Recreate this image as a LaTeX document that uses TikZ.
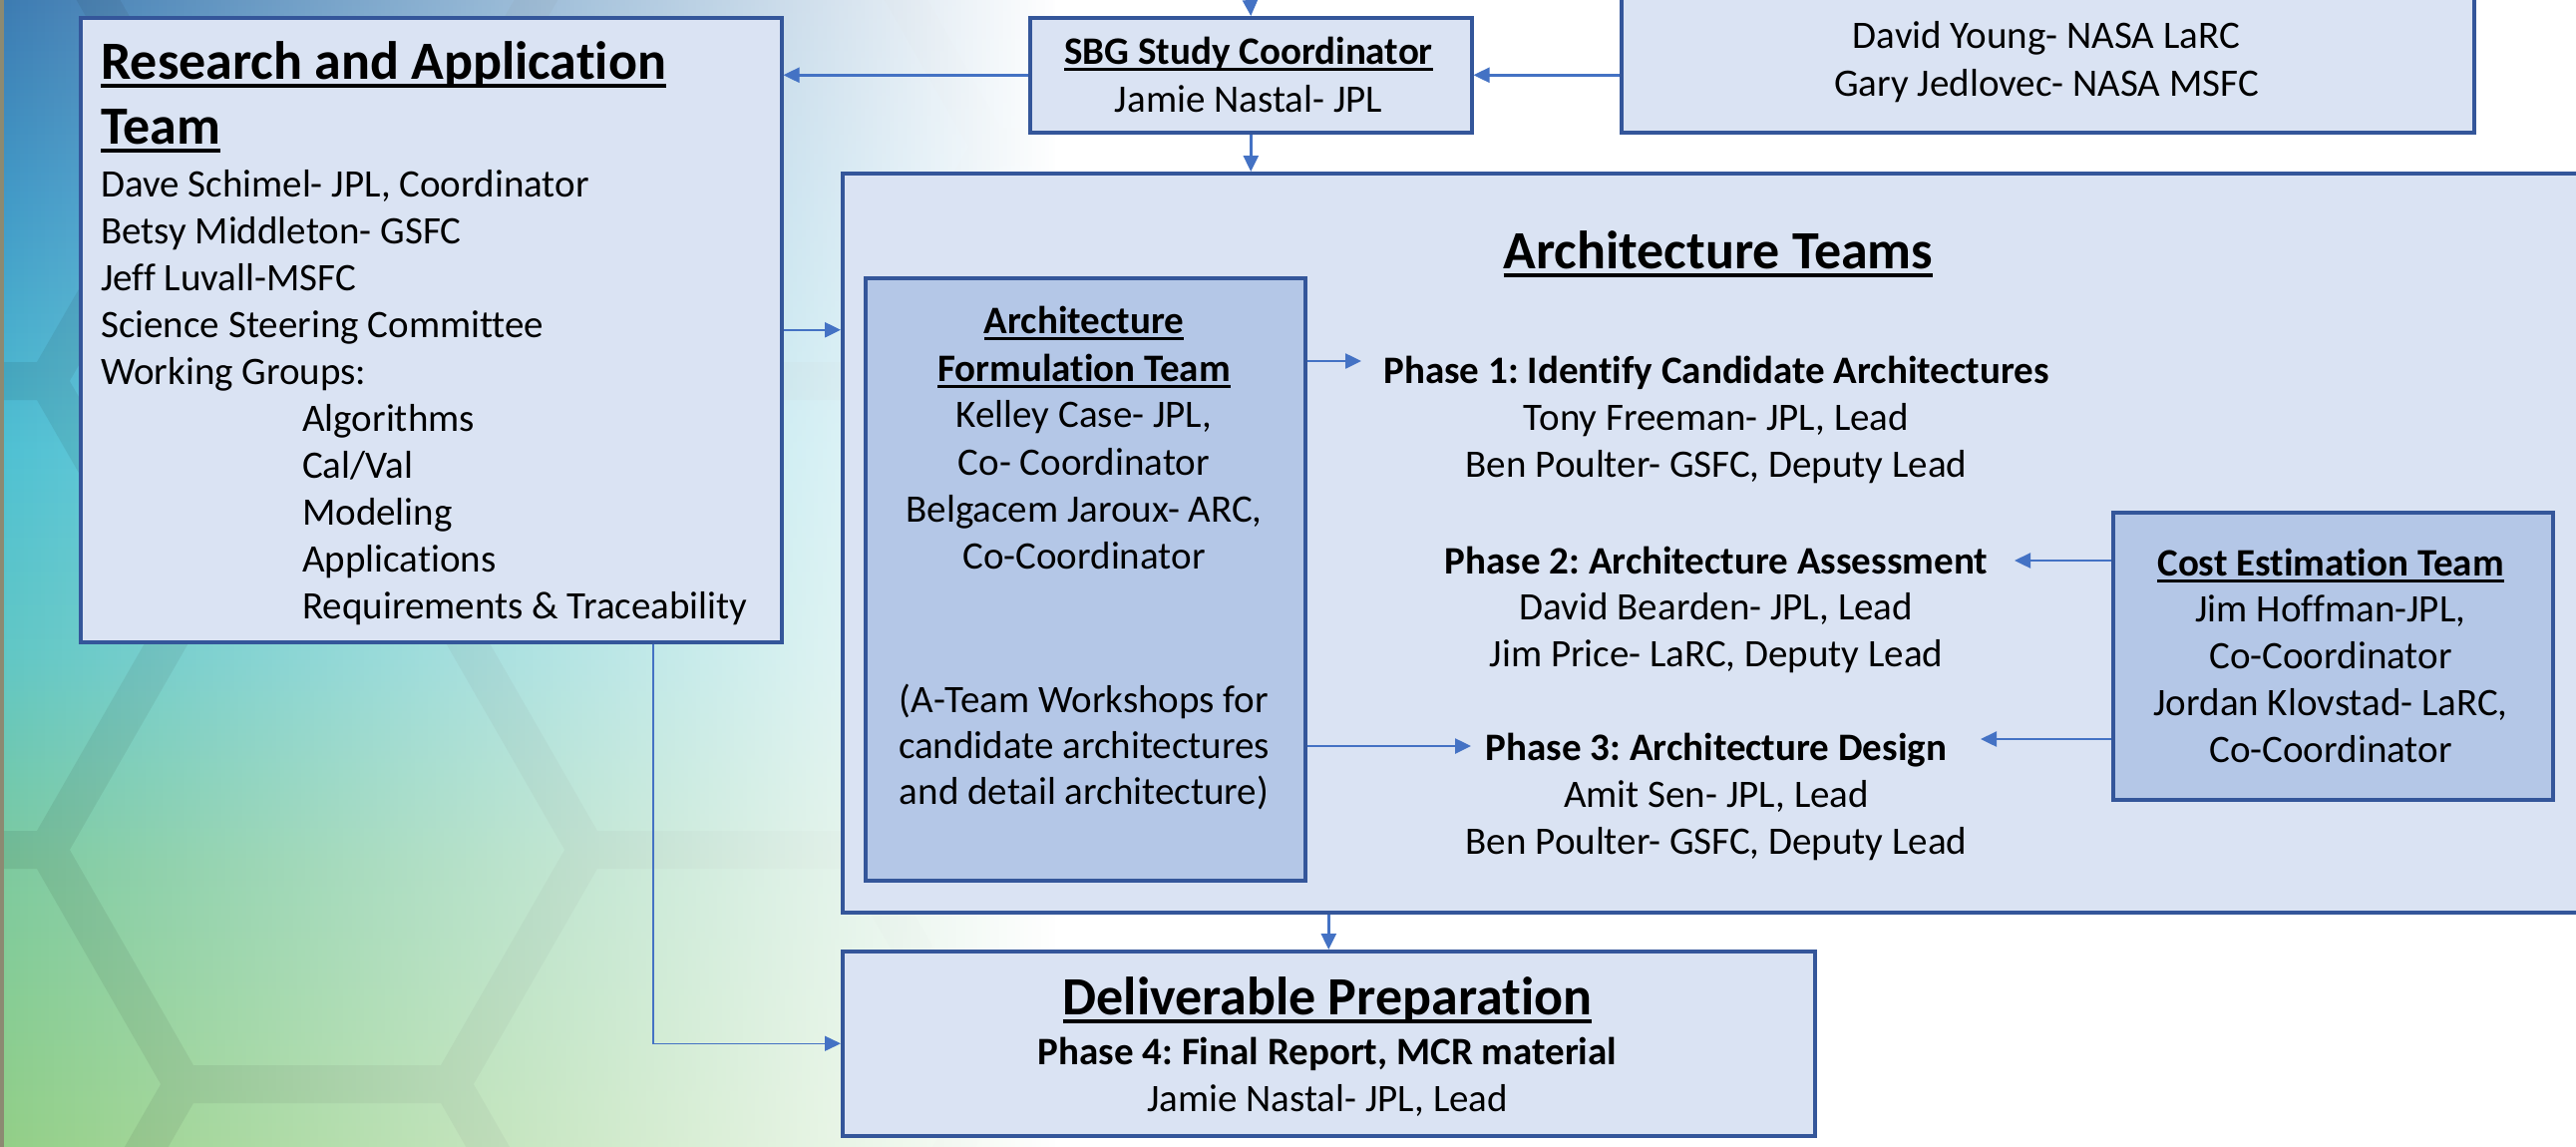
\documentclass[tikz,border=0pt]{standalone}
\usepackage{fontspec}
\setmainfont{Carlito}[Ligatures=NoCommon]
\usetikzlibrary{arrows.meta,fadings}
\definecolor{boxf}{HTML}{DAE3F3}
\definecolor{boxi}{HTML}{B4C7E7}
\definecolor{boxb}{HTML}{34569A}
\definecolor{arrc}{HTML}{4472C4}
\definecolor{bgBa}{HTML}{3A78B0}
\definecolor{bgBb}{HTML}{3F98C6}
\definecolor{bgC}{HTML}{4DC0D2}
\definecolor{bgT}{HTML}{5FC6C4}
\definecolor{bgY}{HTML}{7BC99E}
\definecolor{bgG}{HTML}{93CF84}
\definecolor{edgec}{HTML}{8C8A72}
\pgfdeclareverticalshading{bgshade}{100bp}{color(0bp)=(bgG); color(25bp)=(bgG); color(38bp)=(bgY); color(46.7bp)=(bgT); color(55.4bp)=(bgC); color(66.3bp)=(bgBb); color(75bp)=(bgBa); color(100bp)=(bgBa)}
\tikzfading[name=fadeR, left color=transparent!100, right color=transparent!0]
\newcommand\ulx[1]{\sbox0{#1}\rlap{\rule[-0.17em]{\wd0}{0.075em}}\usebox0}
\frenchspacing
\tikzset{
  box/.style={draw=boxb, line width=3.5pt, fill=boxf, inner sep=0pt, anchor=north west},
  ibox/.style={box, fill=boxi},
  txt/.style={inner sep=0pt, anchor=base, font=\fontsize{39}{47}\selectfont},
  txtl/.style={txt, anchor=base west},
  bt/.style={txt, font=\fontsize{39}{47}\selectfont\bfseries},
  big/.style={inner sep=0pt, anchor=base, font=\fontsize{54}{65}\selectfont\bfseries},
  arr/.style={draw=arrc, line width=2.5pt, -{Triangle[length=16pt,width=15pt]}},
  hexb/.style={draw=black, opacity=0.08, line width=38pt, line join=round},
}
\begin{document}
\begin{tikzpicture}[x=1pt, y=-1pt]
\useasboundingbox (0,0) rectangle (2583,1149);
% background
\fill[white] (-10,-10) rectangle (2600,1170);
\shade[shading=bgshade] (-10,-10) rectangle (1060,1170);
\begin{scope}
  \clip (-10,-10) rectangle (1060,1170);
  \draw[hexb] \foreach \cx/\cy in {318/852, 318/382, 318/1322, 318/-88, 723/617, 723/1087, 723/147, -87/617, -87/1087, -87/147, 1128/852, 1128/382}
    { (\cx+270,\cy) -- (\cx+135,\cy-235) -- (\cx-135,\cy-235) -- (\cx-270,\cy) -- (\cx-135,\cy+235) -- (\cx+135,\cy+235) -- cycle };
\end{scope}
\fill[white, path fading=fadeR] (-10,-10) rectangle (1060,1170);
\fill[white] (1058,-10) rectangle (1100,1170);
\fill[edgec] (-10,-10) rectangle (4,1170);

% boxes
\node[box, minimum width=703pt, minimum height=626pt] (rat) at (79,16) {};
\node[box, minimum width=443pt, minimum height=115pt] (sbg) at (1031,16) {};
\node[box, minimum width=855pt, minimum height=171pt] (tr) at (1624,-40) {};
\node[box, minimum width=1800pt, minimum height=741pt] (arch) at (843,172) {};
\node[ibox, minimum width=441pt, minimum height=604pt] (af) at (866,277) {};
\node[ibox, minimum width=441pt, minimum height=288pt] (cost) at (2117,512) {};
\node[box, minimum width=975pt, minimum height=185pt] (deliv) at (843,952) {};

% Research and Application Team
\node[big, anchor=base west] (r0) at (101,79) {\ulx{Research and Application}};
\node[big, anchor=base west] (r1) at (101,144) {\ulx{Team}};
\node[txtl] (r2) at (101,197) {Dave Schimel- JPL, Coordinator};
\node[txtl] (r3) at (101,244) {Betsy Middleton- GSFC};
\node[txtl] (r4) at (101,291) {Jeff Luvall-MSFC};
\node[txtl] (r5) at (101,338) {Science Steering Committee};
\node[txtl] (r6) at (101,385) {Working Groups:};
\node[txtl] (r7) at (303,432) {Algorithms};
\node[txtl] (r8) at (303,479) {Cal/Val};
\node[txtl] (r9) at (303,526) {Modeling};
\node[txtl] (r10) at (303,573) {Applications};
\node[txtl] (r11) at (303,620) {Requirements \& Traceability};

% SBG
\node[bt] (s0) at (1252,64) {\ulx{SBG Study Coordinator}};
\node[txt] (s1) at (1252,112) {Jamie Nastal- JPL};

% top right
\node[txt] (tr1) at (2052,48) {David Young- NASA LaRC};
\node[txt] (tr2) at (2052,96) {Gary Jedlovec- NASA MSFC};

% Architecture Teams
\node[big] (at) at (1723,269) {\ulx{Architecture Teams}};

\node[bt] (f0) at (1087,334) {\ulx{Architecture}};
\node[bt] (f1) at (1087,382) {\ulx{Formulation Team}};
\node[txt] (f2) at (1087,428) {Kelley Case- JPL,};
\node[txt] (f3) at (1087,476) {Co- Coordinator};
\node[txt] (f4) at (1087,523) {Belgacem Jaroux- ARC,};
\node[txt] (f5) at (1087,570) {Co-Coordinator};
\node[txt] (f6) at (1087,714) {(A-Team Workshops for};
\node[txt] (f7) at (1087,760) {candidate architectures};
\node[txt] (f8) at (1087,806) {and detail architecture)};

\node[bt] (p1) at (1721,384) {Phase 1: Identify Candidate Architectures};
\node[txt] (p1a) at (1721,431) {Tony Freeman- JPL, Lead};
\node[txt] (p1b) at (1721,478) {Ben Poulter- GSFC, Deputy Lead};
\node[bt] (p2) at (1721,575) {Phase 2: Architecture Assessment};
\node[txt] (p2a) at (1721,621) {David Bearden- JPL, Lead};
\node[txt] (p2b) at (1721,668) {Jim Price- LaRC, Deputy Lead};
\node[bt] (p3) at (1721,762) {Phase 3: Architecture Design};
\node[txt] (p3a) at (1721,809) {Amit Sen- JPL, Lead};
\node[txt] (p3b) at (1721,856) {Ben Poulter- GSFC, Deputy Lead};

\node[bt] (c0) at (2337,577) {\ulx{Cost Estimation Team}};
\node[txt] (c1) at (2337,623) {Jim Hoffman-JPL,};
\node[txt] (c2) at (2337,670) {Co-Coordinator};
\node[txt] (c3) at (2337,717) {Jordan Klovstad- LaRC,};
\node[txt] (c4) at (2337,764) {Co-Coordinator};

% Deliverable
\node[big] (d0) at (1331,1017) {\ulx{Deliverable Preparation}};
\node[bt] (d1) at (1331,1067) {Phase 4: Final Report, MCR material};
\node[txt] (d2) at (1331,1114) {Jamie Nastal- JPL, Lead};

% connector helpers
\coordinate (topc) at (1252,-30);
\coordinate (p1in) at (1365,362);
\coordinate (p2in) at (2020,562);
\coordinate (p3inL) at (1475,748);
\coordinate (p3inR) at (1986,741);
\coordinate (elb) at (655,1045);

% connectors
\draw[arr] (topc) -- (sbg.north);
\draw[arr] (tr.west |- sbg.east) -- (sbg.east);
\draw[arr] (sbg.west) -- (rat.east |- sbg.west);
\draw[arr] (sbg.south) -- (sbg.south |- arch.north);
\draw[arr] (rat.east) -- (arch.west |- rat.east);
\draw[arr] (af.east |- p1in) -- (p1in);
\draw[arr] (af.east |- p3inL) -- (p3inL);
\draw[arr] (cost.west |- p2in) -- (p2in);
\draw[arr] (cost.west |- p3inR) -- (p3inR);
\draw[arr] (deliv.north |- arch.south) -- (deliv.north);
\draw[arr, line width=1.5pt] (rat.south -| elb) |- (deliv.west);
\end{tikzpicture}
\end{document}
